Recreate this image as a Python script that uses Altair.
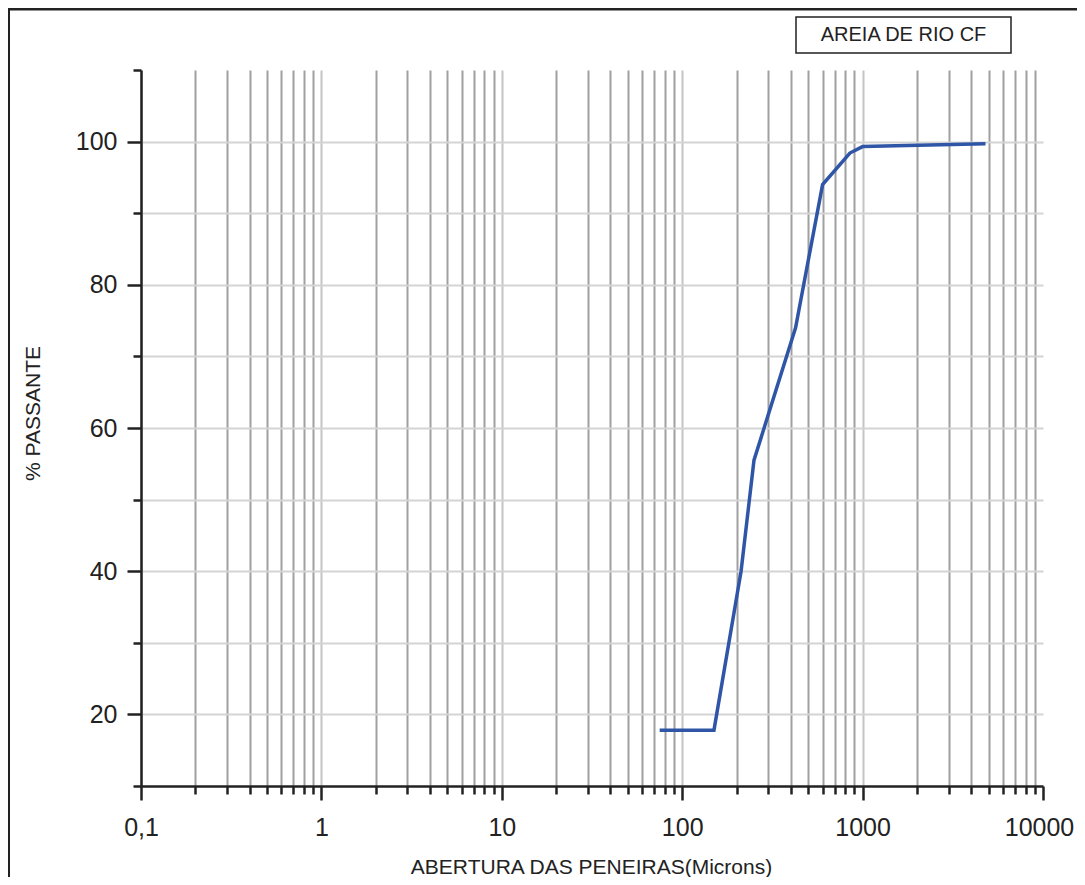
import altair as alt
import pandas as pd

# Data
abertura = [75, 150, 212, 250, 425, 600, 850, 1000, 4800]
passante = [17.8, 17.8, 40.0, 55.5, 74.0, 94.0, 98.4, 99.3, 99.7]

x_ticks = [0.1, 0.2, 0.3, 0.4, 0.5, 0.6, 0.7, 0.8, 0.9,
           1, 2, 3, 4, 5, 6, 7, 8, 9,
           10, 20, 30, 40, 50, 60, 70, 80, 90,
           100, 200, 300, 400, 500, 600, 700, 800, 900,
           1000, 2000, 3000, 4000, 5000, 6000, 7000, 8000, 9000,
           10000]
y_ticks = [10, 20, 30, 40, 50, 60, 70, 80, 90, 100, 110]
y_labels = [20, 40, 60, 80, 100]

serie = "AREIA DE RIO CF"
x_title = "ABERTURA DAS PENEIRAS(Microns)"
y_title = "% PASSANTE"

df = pd.DataFrame({"abertura": abertura, "passante": passante})
one = pd.DataFrame({"k": [0]})

FONT = "Liberation Sans"
DEC = "abs(log(datum.value)/LN10 - round(log(datum.value)/LN10)) < 1e-6"
YMAJ = "indexof(" + str(y_labels) + ", datum.value) >= 0"

x_axis = alt.Axis(
    values=x_ticks,
    labelExpr=DEC + " ? replace(format(datum.value, ''), '.', ',') : ''",
    labelFont=FONT, labelFontSize=25, labelColor="#222222",
    labelPadding=15, labelOverlap=False, labelFlush=False,
    labelOffset={"condition": {"test": "datum.value >= 10000", "value": -4}, "value": 0},
    tickSize={"condition": {"test": DEC, "value": 14}, "value": 8},
    tickWidth=2.5, tickColor="#222222",
    domainColor="#222222", domainWidth=2.5,
    grid=True,
    gridColor={"condition": {"test": DEC, "value": "#c4c4c4"}, "value": "#a0a0a0"},
    gridOpacity={"condition": {"test": "datum.value >= 10000", "value": 0}, "value": 1},
    gridWidth=2,
    title=x_title, titleFont=FONT, titleFontSize=21, titleFontWeight="normal",
    titleColor="#222222", titleX=450, titleY=81, titleBaseline="middle",
    titleAlign="center",
)

y_axis = alt.Axis(
    values=y_ticks,
    labelExpr=YMAJ + " ? format(datum.value, 'd') : ''",
    labelFont=FONT, labelFontSize=25, labelColor="#222222",
    labelPadding=10, labelOverlap=False, labelFlush=False,
    tickSize={"condition": {"test": YMAJ, "value": 14}, "value": 8},
    tickWidth=2.5, tickColor="#222222",
    domainColor="#222222", domainWidth=2.5,
    grid=True,
    gridColor="#d4d4d4",
    gridOpacity={"condition": {"test": "datum.value >= 110 || datum.value <= 10", "value": 0}, "value": 1},
    gridWidth=2,
    title=y_title, titleFont=FONT, titleFontSize=21, titleFontWeight="normal",
    titleColor="#222222", titleX=-108, titleY=343, titleBaseline="middle",
    titleAlign="center", titleAngle=270,
)

line = alt.Chart(df).mark_line(color="#2f55a6", strokeWidth=3.5).encode(
    x=alt.X("abertura:Q", scale=alt.Scale(type="log", domain=[0.1, 10000], nice=False), axis=x_axis),
    y=alt.Y("passante:Q", scale=alt.Scale(domain=[10, 110], nice=False, zero=False), axis=y_axis),
)

box = alt.Chart(one).mark_rect(fill="white", stroke="#222222", strokeWidth=1.5).encode(
    x=alt.value(655), x2=alt.value(870), y=alt.value(-53), y2=alt.value(-17)
)
box_text = alt.Chart(one).mark_text(
    text=serie, font=FONT, fontSize=20, color="#222222", align="center", baseline="middle"
).encode(x=alt.value(762.5), y=alt.value(-35))

frame_left = alt.Chart(one).mark_rule(color="#222222", strokeWidth=3).encode(
    x=alt.value(-132.5), y=alt.value(-62), y2=alt.value(820)
)
frame_top = alt.Chart(one).mark_rule(color="#222222", strokeWidth=3).encode(
    x=alt.value(-134), x2=alt.value(950), y=alt.value(-61)
)

chart = alt.layer(line, box, box_text, frame_left, frame_top).properties(
    width=902, height=716,
    padding={"left": 133, "top": 62, "right": 34, "bottom": 91},
    autosize=alt.AutoSizeParams(type="none"),
    background="white",
).configure_view(strokeOpacity=0)

chart.save("out.html", embed_options={"renderer": "svg", "actions": False})
